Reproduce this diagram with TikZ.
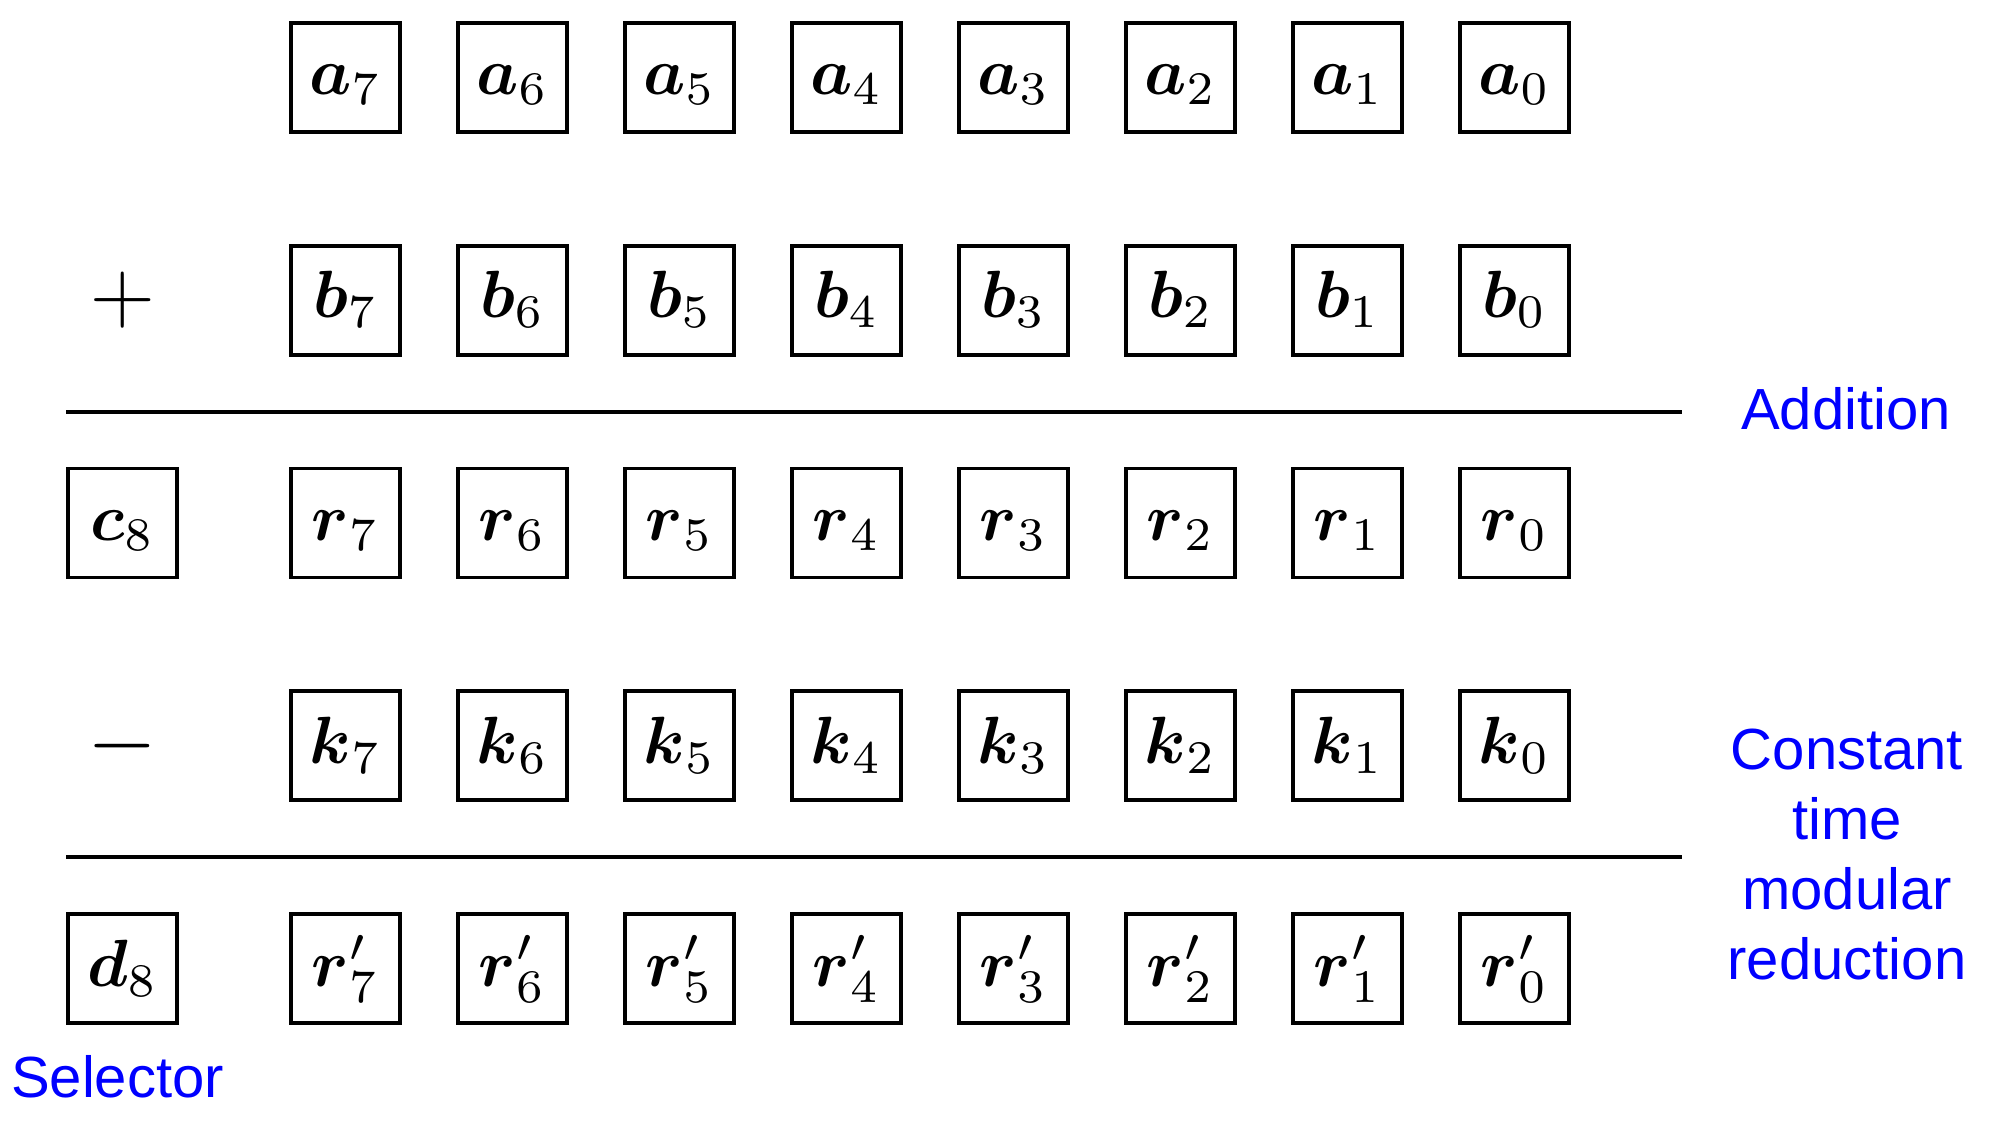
\RequirePackage{fix-cm}
\documentclass[tikz,border=0pt]{standalone}
\usepackage{amsmath,graphicx}
\usepackage{fontspec}
\newfontfamily\labelfont{Liberation Sans}
\definecolor{lblblue}{RGB}{0,0,255}
\newcommand{\bitvar}[2]{\scalebox{1.9}{$\boldsymbol{#1}_{#2}$}}
\newcommand{\bitprime}[2]{\scalebox{1.9}{$\boldsymbol{#1}'_{#2}$}}
\tikzset{
  bit/.style={draw, line width=1.05pt, minimum size=1.09cm, inner sep=0pt,
              text height=13pt, text depth=3pt, font=\fontsize{10}{12}\selectfont},
  op/.style={inner sep=0pt, font=\fontsize{25.5}{30}\selectfont},
  lbl/.style={inner sep=0pt, text=lblblue, font=\labelfont\fontsize{16.5}{19.9}\selectfont},
  sumline/.style={line width=1.14pt},
}

\begin{document}
\begin{tikzpicture}[x=0.01cm, y=-0.01cm]
      \useasboundingbox (0,0) rectangle (1993,1131);
      % operands and results, bit 7 on the left
      \foreach \i in {0,...,7}{
        \node[bit] (a\i)  at ({345.5+167*(7-\i)}, 77.4)  {\bitvar{a}{\i}};
        \node[bit] (b\i)  at ({345.5+167*(7-\i)}, 300.2) {\bitvar{b}{\i}};
        \node[bit] (r\i)  at ({345.5+167*(7-\i)}, 523)   {\bitvar{r}{\i}};
        \node[bit] (k\i)  at ({345.5+167*(7-\i)}, 745.8) {\bitvar{k}{\i}};
        \node[bit] (rp\i) at ({345.5+167*(7-\i)}, 968.6) {\bitprime{r}{\i}};
      }
      \node[bit] (c8) at (122.5, 523)   {\bitvar{c}{8}};
      \node[bit] (d8) at (122.5, 968.6) {\bitvar{d}{8}};
      \node[op] (plus)  at (122.5, 300.2) {$+$};
      \node[op] (minus) at (122.5, 745.8) {$-$};
      \draw[sumline] (66, 411.7)--(1682, 411.7);
      \draw[sumline] (66, 856.7)--(1682, 856.7);
      \node[lbl, anchor=base] (addition) at (1846, 430) {Addition};
      \node[lbl, anchor=north, align=center] (reduction) at (1847, 728) {Constant\\time\\modular\\reduction};
      \node[lbl, anchor=base] (selector) at (117.5, 1097) {Selector};
    \end{tikzpicture}
\end{document}
